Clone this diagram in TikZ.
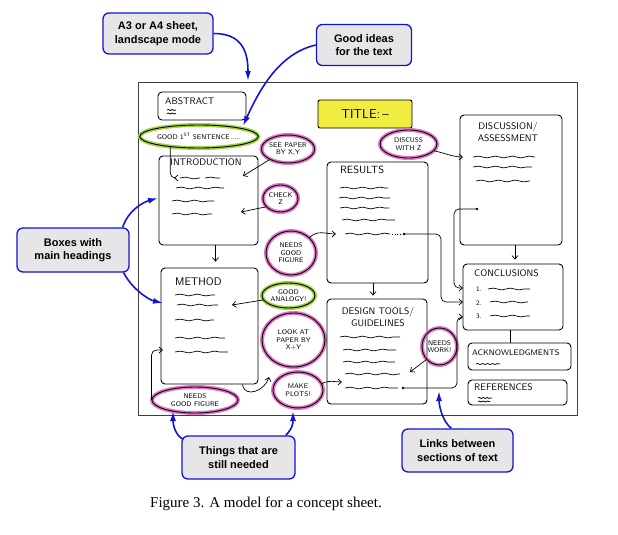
\documentclass[tikz,border=0pt]{standalone}
\usepackage{fontspec}
\setmainfont{Liberation Serif}
\newfontfamily\callfont{Liberation Sans}
\usetikzlibrary{arrows.meta,shapes.geometric,decorations.pathmorphing,calc}
\definecolor{cblue}{RGB}{20,20,215}
\definecolor{cgray}{RGB}{230,230,232}
\definecolor{hlpink}{RGB}{226,118,196}
\definecolor{hlgreen}{RGB}{160,212,64}
\definecolor{tyellow}{RGB}{240,236,64}
\tikzset{
 callout/.style={draw=cblue, fill=cgray, line width=1.3pt, rounded corners=6pt, align=center, font=\callfont\bfseries\fontsize{11}{13.5}\selectfont, inner sep=0pt},
 barrow/.style={draw=cblue, line width=1.6pt, -{Latex[length=10pt,width=6pt]}},
 hbox/.style={draw, line width=0.9pt, rounded corners=4pt, inner sep=0pt},
 htext/.style={font=\sffamily\fontsize{9.5}{12}\selectfont, inner sep=0pt, align=center},
 btext/.style={font=\sffamily\fontsize{6.8}{7.6}\selectfont, align=center, inner sep=0pt},
 pinkb/.style={ellipse, draw, line width=0.9pt, preaction={draw=hlpink, line width=4pt}, inner sep=0pt, btext},
 greenb/.style={ellipse, draw, line width=0.9pt, preaction={draw=hlgreen, line width=4pt}, inner sep=0pt, btext},
 harrow/.style={line width=0.7pt, -{Straight Barb[length=3.5pt,width=6pt]}},
 wavy/.style={decorate, decoration={snake, amplitude=0.9pt, segment length=17pt}, line width=0.7pt},
}
\begin{document}
\begin{tikzpicture}[x=1pt,y=-1pt]
\useasboundingbox (0,0) rectangle (618,535);
\fill[white] (0,0) rectangle (618,535);
% sheet
\coordinate (sheetNW) at (138,82);
\coordinate (sheetSE) at (577,415);
\draw[black!75, line width=0.9pt] (sheetNW) rectangle (sheetSE);

% callouts
\node[callout, minimum width=110, minimum height=41] (a3) at (158,33.5) {A3 or A4 sheet,\\landscape mode};
\node[callout, minimum width=95, minimum height=41] (gi) at (364,45) {Good ideas\\for the text};
\node[callout, minimum width=112, minimum height=44] (bx) at (73,250) {Boxes with\\main headings};
\node[callout, minimum width=113, minimum height=43] (tn) at (238.5,457.5) {Things that are\\still needed};
\node[callout, minimum width=111, minimum height=43] (lk) at (457.5,450.5) {Links between\\sections of text};
\node[anchor=base west, font=\fontsize{15}{18}\selectfont, inner sep=0pt] (cap) at (150,507) {Figure 3. A model for a concept sheet.};

% abstract & title
\node[hbox, minimum width=88, minimum height=28] (abs) at (202,106) {};
\node[htext, anchor=west] (absT) at (165,101) {ABSTRACT};
\draw[wavy, decoration={amplitude=0.5pt, segment length=4pt}] (167,110) -- (176,110);
\draw[wavy, decoration={amplitude=0.5pt, segment length=4pt}] (167,113.5) -- (176,113.5);
\node[draw, fill=tyellow, line width=0.9pt, rounded corners=2pt, minimum width=94, minimum height=28, font=\sffamily\fontsize{13}{15}\selectfont] (title) at (365,114) {TITLE:\,\textendash};

% good first sentence
\node[greenb, minimum width=108, minimum height=23] (g1) at (199,136.5) {GOOD 1\textsuperscript{ST} SENTENCE\,.....};

% introduction
\node[hbox, minimum width=99, minimum height=89] (intro) at (208.5,200.5) {};
\node[htext, anchor=north] (introT) at (206,158) {INTRODUCTION};
\draw[wavy] (180,178) -- (200,178); \draw[wavy] (205,178) -- (220,178);
\draw[wavy] (176,188) -- (224,188);
\draw[wavy] (172,201) -- (214,201);
\draw[wavy] (172,214) -- (212,214);
\coordinate (intoIntro) at (174,178);
\draw[harrow, rounded corners=5pt] (g1.200) |- (intoIntro);

\node[pinkb, minimum width=52, minimum height=28] (sp) at (288,149) {SEE PAPER\\BY X,Y};
\coordinate (spIn) at (243,176);
\draw[harrow] (sp.210) -- (spIn);
\node[pinkb, minimum width=35, minimum height=27] (cz) at (280.5,198.5) {CHECK\\Z};
\coordinate (czIn) at (241,212);
\draw[harrow] (cz.210) -- (czIn);

% method
\node[hbox, minimum width=97, minimum height=116] (method) at (209.5,326) {};
\node[htext, font=\sffamily\fontsize{11}{13}\selectfont, anchor=north west] (methodT) at (175,277) {METHOD};
\draw[wavy] (175,295) -- (215,295);
\draw[wavy] (177,305) -- (218,305);
\draw[wavy] (175,320) -- (214,320);
\draw[wavy] (175,338) -- (225,338);
\draw[wavy] (175,352) -- (228,352);
\draw[harrow] ($(intro.south)+(7,0)$) -- ($(method.north)+(6,-6)$);

\node[pinkb, minimum width=86, minimum height=26] (nf2) at (195,400) {NEEDS\\GOOD FIGURE};
\coordinate (mIn) at (163,350);
\draw[harrow, rounded corners=5pt] (nf2.west) |- (mIn);

\node[pinkb, minimum width=50, minimum height=44] (nf1) at (291,253) {NEEDS\\GOOD\\FIGURE};
\node[greenb, minimum width=53, minimum height=25] (ga) at (288.5,295.5) {GOOD\\ANALOGY!};
\coordinate (gaIn) at (232,305);
\draw[harrow] (ga.190) -- (gaIn);
\node[pinkb, minimum width=63, minimum height=54] (lp) at (293.5,340) {LOOK AT\\PAPER BY\\X+Y};
\node[pinkb, minimum width=50, minimum height=36] (mp) at (298,390) {MAKE\\PLOTS!};
\coordinate (mpIn) at (269,377);
\draw[harrow] ($(method.south)+(33,0)$) .. controls +(2,14) and +(-4,14) .. (mpIn);

% results
\node[hbox, minimum width=101, minimum height=121] (res) at (377.5,222.5) {};
\node[htext, font=\sffamily\fontsize{10.5}{12}\selectfont, anchor=north west] (resT) at (340,166) {RESULTS};
\draw[wavy] (340,188) -- (388,188);
\draw[wavy] (339,198) -- (390,198);
\draw[wavy] (340,208) -- (389,208);
\draw[wavy] (342,220) -- (395,220);
\draw[wavy] (345,234) -- (390,234);
\draw[line width=0.6pt, dotted] (392,234) -- (400,234);
\coordinate (rDot) at (404,234);
\fill (rDot) circle (1.4);
\coordinate (rIn) at (336,234);
\draw[harrow] (nf1.40) .. controls +(8,-8) and +(-10,0) .. (rIn);

% design tools
\node[hbox, minimum width=100, minimum height=105] (des) at (377,351.5) {};
\node[htext, anchor=north] (desT) at (378,307) {DESIGN TOOLS/\\GUIDELINES};
\draw[wavy] (340,337) -- (400,337);
\draw[wavy] (343,350) -- (396,350);
\draw[wavy] (343,362) -- (395,362);
\draw[wavy] (345,374) -- (400,374);
\draw[wavy] (345,388) -- (398,388);
\coordinate (gDot) at (403,388);
\fill (gDot) circle (1.4);
\draw[harrow] ($(res.south)+(-4.5,0)$) -- ($(des.north)+(-4,-3)$);
\coordinate (dIn) at (342,382);
\draw[harrow] (mp.15) .. controls +(8,-4) and +(-8,0) .. (dIn);

\node[pinkb, minimum width=35, minimum height=37] (nw) at (439.5,346.5) {NEEDS\\WORK!};
\coordinate (nwIn) at (410,372);
\draw[harrow] (nw.225) -- (nwIn);

% discussion
\node[pinkb, minimum width=57, minimum height=28] (dz) at (408.5,144) {DISCUSS\\WITH Z};
\node[hbox, minimum width=102, minimum height=130] (disc) at (511,180) {};
\node[htext, anchor=north] (discT) at (508,122) {DISCUSSION/\\ASSESSMENT};
\draw[wavy] (473,157) -- (535,157);
\draw[wavy] (473,167) -- (532,167);
\draw[wavy] (476,181) -- (530,181);
\coordinate (dIn2) at (463,157);
\draw[harrow] (dz.345) .. controls +(10,2) and +(-10,0) .. (dIn2);
\coordinate (dDot) at (477,209);
\fill (dDot) circle (1.4);

% conclusions
\node[hbox, minimum width=100, minimum height=66] (concl) at (513,297) {};
\node[htext, anchor=north west] (conclT) at (474,269) {CONCLUSIONS};
\node[btext, anchor=west] (i1) at (476,289) {1.};
\node[btext, anchor=west] (i2) at (476,303) {2.};
\node[btext, anchor=west] (i3) at (476,316) {3.};
\draw[wavy] (488,289) -- (530,289);
\draw[wavy] (490,302) -- (528,302);
\draw[wavy] (490,316) -- (530,316);
\draw[harrow] ($(disc.south)+(4,0)$) -- ($(concl.north)+(2,-4)$);

\coordinate (c1In) at (463,288);
\coordinate (c2In) at (463,302);
\coordinate (c3In) at (463,317);
\draw[harrow, rounded corners=5pt] (dDot) -| ($(c1In)+(-9,0)$) -- (c1In);
\draw[harrow, rounded corners=5pt] (rDot) -| ($(c2In)+(-22,0)$) -- (c2In);
\draw[harrow, rounded corners=5pt] (gDot) -| ($(c3In)+(-6,0)$) -- (c3In);

% acknowledgments & references
\node[hbox, minimum width=103, minimum height=27] (ack) at (519.5,356.5) {};
\node[htext, font=\sffamily\fontsize{8}{9}\selectfont, anchor=west] (ackT) at (472,353) {ACKNOWLEDGMENTS};
\draw[wavy, decoration={amplitude=0.5pt, segment length=5pt}] (476,364) -- (500,364);
\draw[line width=0.7pt] ($(concl.south)+(-3,0)$) -- ($(ack.north)+(-9.5,0)$);
\node[hbox, minimum width=99, minimum height=25] (ref) at (517.5,392.5) {};
\node[htext, anchor=west] (refT) at (474,387) {REFERENCES};
\draw[wavy, decoration={amplitude=0.5pt, segment length=4pt}] (478,398) -- (492,398);
\draw[wavy, decoration={amplitude=0.5pt, segment length=4pt}] (478,401.5) -- (490,401.5);

% blue arrows
\coordinate (a3Tip) at (248,81);
\draw[barrow] (a3.east) .. controls +(28,0) and +(0,-30) .. (a3Tip);
\coordinate (giTip) at (243,126);
\draw[barrow] (gi.west) .. controls +(-35,8) and +(18,-40) .. (giTip);
\coordinate (bxTip1) at (158,198);
\coordinate (bxTip2) at (163,303);
\draw[barrow] ($(bx.north east)+(-7,0)$) .. controls +(6,-18) and +(-14,4) .. (bxTip1);
\draw[barrow] ($(bx.south east)+(-6,0)$) .. controls +(8,16) and +(-14,-3) .. (bxTip2);
\coordinate (tnTip1) at (173,411);
\coordinate (tnTip2) at (293,411);
\draw[barrow] ($(tn.north west)+(2,4)$) .. controls +(-8,-4) and +(0,14) .. (tnTip1);
\draw[barrow] ($(tn.north east)+(-10,0)$) .. controls +(6,-6) and +(0,14) .. (tnTip2);
\coordinate (lkTip) at (439,391);
\draw[barrow] ($(lk.north west)+(50,0)$) .. controls +(-8,-6) and +(0,16) .. (lkTip);
\end{tikzpicture}
\end{document}
